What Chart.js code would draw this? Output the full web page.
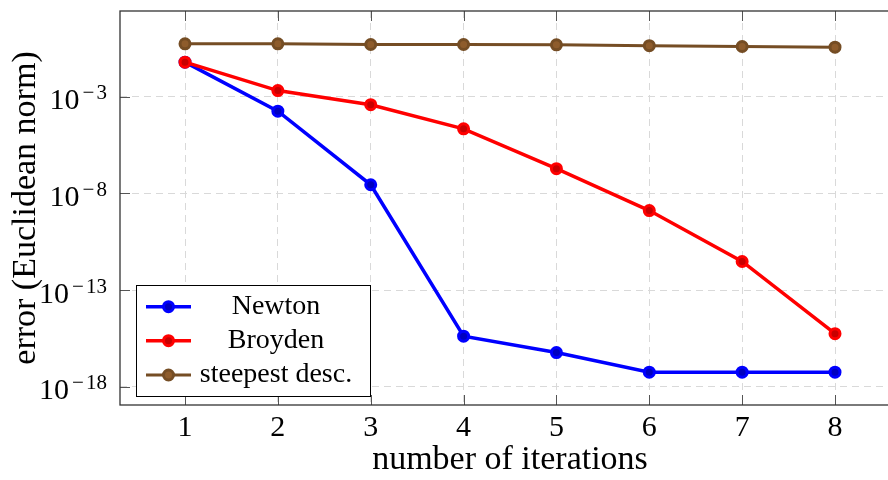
<!DOCTYPE html>
<html>
<head>
<meta charset="utf-8">
<script src="https://cdn.jsdelivr.net/npm/chart.js@4.4.1/dist/chart.umd.min.js"></script>
<style>
  html, body { margin: 0; padding: 0; background: #fff; overflow: hidden; }
  #errChart { display: block; }
</style>
</head>
<body>
<canvas id="errChart" width="888" height="480"></canvas>
<script>
// Error per iteration for three solvers (log scale)
const iterations = [1, 2, 3, 4, 5, 6, 7, 8];
const newtonErr = [6.2e-2, 1.8e-4, 2.8e-8, 4.1e-16, 5.8e-17, 5.6e-18, 5.6e-18, 5.6e-18];
const broydenErr = [6.2e-2, 2.1e-3, 3.9e-4, 2.2e-5, 1.9e-7, 1.3e-9, 3.0e-12, 5.5e-16];
const steepestErr = [0.55, 0.55, 0.51, 0.51, 0.49, 0.44, 0.40, 0.37];
const seriesNames = ['Newton', 'Broyden', 'steepest desc.'];
const xTicks = [1, 2, 3, 4, 5, 6, 7, 8];
const yTickExps = [-18, -13, -8, -3];

const SERIF = '"Liberation Serif", "Times New Roman", serif';
const GRID = '#d9d9d9';
const PLOT_RIGHT = 900; // plot box runs a little past the canvas edge

const styles = [
  { line: '#0000ff', fill: '#0000c0', width: 3.5 },
  { line: '#ff0000', fill: '#c80000', width: 3.5 },
  { line: '#754d24', fill: '#8e5c2c', width: 3 }
];

function makeSet(i, values, order) {
  const s = styles[i];
  return {
    label: seriesNames[i],
    data: iterations.map((x, k) => ({ x: x, y: values[k] })),
    borderColor: s.line,
    borderWidth: s.width,
    pointRadius: 5,
    pointBorderWidth: 3,
    pointBackgroundColor: s.fill,
    pointBorderColor: s.line,
    tension: 0,
    order: order
  };
}

// widen the chart area and x scale past the right edge
const extendRight = {
  id: 'extendRight',
  afterLayout(chart) {
    const a = chart.chartArea;
    const xs = chart.scales.x;
    a.right = PLOT_RIGHT;
    a.width = PLOT_RIGHT - a.left;
    xs.right = PLOT_RIGHT;
    xs.width = PLOT_RIGHT - xs.left;
    xs.configure();
  }
};

// frame, inward ticks, y labels with exponents, boxed legend
const axisDecor = {
  id: 'axisDecor',
  afterDraw(chart) {
    const ctx = chart.ctx;
    const a = chart.chartArea;
    const xs = chart.scales.x, ys = chart.scales.y;
    ctx.save();

    ctx.strokeStyle = '#555';
    ctx.lineWidth = 1;
    ctx.beginPath();
    xTicks.forEach(v => {
      const px = Math.round(xs.getPixelForValue(v)) + 0.5;
      ctx.moveTo(px, a.bottom); ctx.lineTo(px, a.bottom - 10);
      ctx.moveTo(px, a.top); ctx.lineTo(px, a.top + 10);
    });
    yTickExps.forEach(e => {
      const py = Math.round(ys.getPixelForValue(Math.pow(10, e))) + 0.5;
      ctx.moveTo(a.left, py); ctx.lineTo(a.left + 10, py);
    });
    ctx.stroke();

    ctx.strokeStyle = '#333';
    ctx.lineWidth = 1.3;
    ctx.strokeRect(a.left, a.top, a.right - a.left, a.bottom - a.top);

    // y tick labels: 10 with a raised exponent
    ctx.fillStyle = '#000';
    ctx.textBaseline = 'alphabetic';
    const labelRight = a.left - 13;
    yTickExps.forEach(e => {
      const py = ys.getPixelForValue(Math.pow(10, e));
      const digits = String(Math.abs(e));
      ctx.font = '21px ' + SERIF;
      const wd = ctx.measureText(digits).width;
      const minusW = 16;
      ctx.textAlign = 'left';
      ctx.fillText(digits, labelRight - wd, py + 2.7);
      ctx.textAlign = 'center';
      ctx.fillText('\u2212', labelRight - wd - minusW / 2, py + 2.7);
      ctx.font = '30px ' + SERIF;
      ctx.textAlign = 'right';
      ctx.fillText('10', labelRight - wd - minusW - 1, py + 12.7);
    });

    // legend box
    const bx = 136.5, by = 285.5, bw = 234, bh = 111;
    ctx.fillStyle = '#fff';
    ctx.fillRect(bx, by, bw, bh);
    ctx.strokeStyle = '#000';
    ctx.lineWidth = 1;
    ctx.strokeRect(bx, by, bw, bh);
    const rows = [306.7, 340.7, 375];
    chart.data.datasets.forEach((ds, i) => {
      const ry = rows[i];
      ctx.strokeStyle = ds.borderColor;
      ctx.lineWidth = ds.borderWidth;
      ctx.beginPath();
      ctx.moveTo(146, ry); ctx.lineTo(191, ry);
      ctx.stroke();
      ctx.beginPath();
      ctx.arc(168.5, ry, 5, 0, Math.PI * 2);
      ctx.fillStyle = ds.pointBackgroundColor;
      ctx.fill();
      ctx.lineWidth = 3;
      ctx.strokeStyle = ds.pointBorderColor;
      ctx.stroke();
      ctx.fillStyle = '#000';
      ctx.font = '28px ' + SERIF;
      ctx.textAlign = 'center';
      ctx.fillText(ds.label, 276, ry + 7);
    });
    ctx.restore();
  }
};

new Chart(document.getElementById('errChart'), {
  type: 'line',
  data: {
    datasets: [
      makeSet(0, newtonErr, 1),
      makeSet(1, broydenErr, 0),
      makeSet(2, steepestErr, 2)
    ]
  },
  options: {
    responsive: false,
    animation: false,
    devicePixelRatio: 1,
    layout: { padding: { top: 11, right: 0, bottom: 0, left: 0 } },
    plugins: { legend: { display: false }, tooltip: { enabled: false } },
    scales: {
      x: {
        type: 'linear',
        min: 0.3,
        max: 8.7,
        bounds: 'data',
        afterBuildTicks: s => { s.ticks = xTicks.map(v => ({ value: v })); },
        afterFit: s => { s.height = 75; },
        grid: { color: GRID, lineWidth: 1, drawTicks: false },
        border: { display: false, dash: [7, 5] },
        ticks: {
          padding: 5,
          color: '#000',
          maxRotation: 0,
          autoSkip: false,
          font: { family: SERIF, size: 30 }
        },
        title: {
          display: true,
          text: 'number of iterations',
          color: '#000',
          font: { family: SERIF, size: 34 },
          padding: { top: 0, bottom: 0 }
        }
      },
      y: {
        type: 'logarithmic',
        min: Math.pow(10, -18.95),
        max: Math.pow(10, 1.44),
        bounds: 'data',
        afterBuildTicks: s => { s.ticks = yTickExps.map(e => ({ value: Math.pow(10, e) })); },
        afterFit: s => { s.width = 120; },
        grid: { color: GRID, lineWidth: 1, drawTicks: false },
        border: { display: false, dash: [7, 5] },
        ticks: { display: false },
        title: {
          display: true,
          text: 'error (Euclidean norm)',
          color: '#000',
          font: { family: SERIF, size: 34 },
          padding: { top: 6, bottom: 0 }
        }
      }
    }
  },
  plugins: [extendRight, axisDecor]
});
</script>
</body>
</html>
